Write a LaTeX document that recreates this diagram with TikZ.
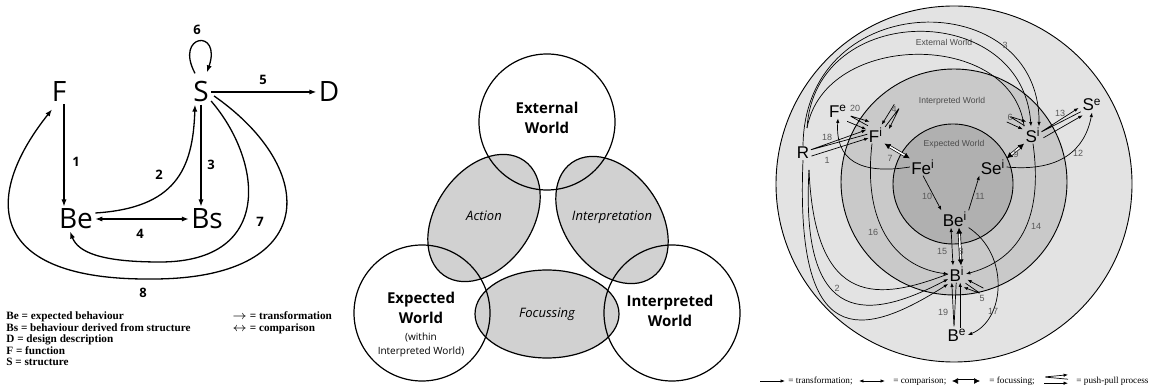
\documentclass[tikz,border=0pt]{standalone}
\usepackage{fontspec}
\setmainfont{Liberation Serif}
\setsansfont{Open Sans}
\newfontfamily\helv{Liberation Sans}
\usetikzlibrary{arrows.meta,calc}

\newcommand{\pushpull}[2]{%
  \draw[tr,rounded corners=0.8pt] ($(#2)!0.4pt!-90:(#1)$) -- ($(#1)!1.5pt!90:(#2)$) -- ($(#2)!2.6pt!-90:(#1)$);
  \draw[tr] ($(#1)!1.6pt!-90:(#2)$) -- ($(#2)!1.6pt!90:(#1)$);}

\begin{document}
\begin{tikzpicture}[x=0.5pt,y=-0.5pt,
    letter/.style={font=\sffamily\fontsize{14}{14}\selectfont, inner sep=1pt},
    num/.style={font=\sffamily\bfseries\fontsize{6.5}{7}\selectfont, inner sep=0pt},
    key/.style={font=\bfseries\fontsize{5.6}{5.75}\selectfont, anchor=base west, inner sep=0pt},
    arr/.style={line width=0.65pt, -{Latex[length=3.5pt,width=2.6pt]}},
    cmp/.style={line width=0.65pt, {Latex[length=3.5pt,width=2.6pt]}-{Latex[length=3.5pt,width=2.6pt]}},
    world/.style={circle, draw, line width=0.6pt, minimum size=68pt, inner sep=0pt},
    lens/.style={draw, line width=0.6pt, fill=black!18},
    wtext/.style={font=\sffamily\bfseries\fontsize{7.5}{10}\selectfont, align=center},
    ltext/.style={font=\sffamily\itshape\fontsize{6.5}{7}\selectfont},
    rnode/.style={font=\helv\fontsize{8.5}{9}\selectfont, inner sep=0.5pt},
    rnum/.style={font=\helv\fontsize{4.5}{5}\selectfont, text=black!65, inner sep=0pt},
    rworld/.style={font=\helv\fontsize{4.3}{5}\selectfont, text=black!70},
    ring/.style={draw, line width=0.45pt},
    tr/.style={line width=0.35pt, -{Latex[length=2.2pt,width=1.7pt]}},
    cp/.style={line width=0.35pt, {Latex[length=2.2pt,width=1.7pt]}-{Latex[length=2.2pt,width=1.7pt]}},
    fc/.style={double, double distance=0.8pt, line width=0.35pt, {Latex[length=3pt,width=3pt]}-{Latex[length=3pt,width=3pt]}},
    rkey/.style={font=\fontsize{4.6}{5}\selectfont, anchor=west, inner sep=0pt}]
   \useasboundingbox (0,0) rectangle (1156,389);

   \node[letter] (F) at (59,92) {F};
   \node[letter] (S) at (201,92) {S};
   \node[letter] (D) at (329,92) {D};
   \node[letter] (Be) at (76,219) {Be};
   \node[letter] (Bs) at (207,219) {Bs};

   \draw[arr] ([xshift=2.5pt]F.south) to ([xshift=2.5pt]F.south |- Be.north);
   \draw[arr] (S.south) to (S.south |- Bs.north);
   \draw[arr] (S.east) to (D.west);
   \draw[cmp] (Be.east) to (Bs.west);
   \draw[arr] ([yshift=3pt]Be.east) .. controls (175,208) and (193,170) .. ([xshift=-3pt]S.south);
   \draw[arr] ([shift={(-6,-6)}]S.north) .. controls (174,34) and (222,28) .. ([shift={(6,-7)}]S.north);
   \draw[arr] ([shift={(0,9)}]S.east) .. controls (262,160) and (275,262) .. (160,262) .. controls (100,262) and (78,252) .. ([xshift=-3pt]Be.south);
   \draw[arr] ([shift={(3,4)}]S.east) .. controls (320,170) and (320,280) .. (150,279) .. controls (-10,280) and (-20,200) .. ([shift={(-7,5)}]F.south);

   \node[num] (n1) at (76,162) {1};
   \node[num] (n2) at (159,175) {2};
   \node[num] (n3) at (211,165) {3};
   \node[num] (n4) at (140,234) {4};
   \node[num] (n5) at (263,80) {5};
   \node[num] (n6) at (197,30) {6};
   \node[num] (n7) at (260,222) {7};
   \node[num] (n8) at (143,293) {8};

   \node[key] (kBe) at (6,320) {Be = expected behaviour};
   \node[key] (kBs) at (6,331.5) {Bs = behaviour derived from structure};
   \node[key] (kD) at (6,343) {D = design description};
   \node[key] (kF) at (6,354.5) {F = function};
   \node[key] (kS) at (6,366) {S = structure};
   \node[key] (kTr) at (232,320) {$\rightarrow$ = transformation};
   \node[key] (kCo) at (232,331.5) {$\leftrightarrow$ = comparison};

   \draw[lens, rotate around={55:(484,218)}] (484,218) ellipse [x radius=70, y radius=48];
   \draw[lens, rotate around={-55:(612,220)}] (612,220) ellipse [x radius=70, y radius=48];
   \draw[lens] (547,314) ellipse [x radius=72, y radius=44];
   \node[world] (ext) at (547,122) {};
   \node[world] (exp) at (422,313) {};
   \node[world] (int) at (672,313) {};
   \node[wtext] (tExt) at (547,118) {External\\World};
   \node[wtext] (tExp) at (421,308) {Expected\\World};
   \node[font=\sffamily\fontsize{5}{7}\selectfont, align=center] (tWithin) at (421,345) {(within\\Interpreted World)};
   \node[wtext] (tInt) at (670,311) {Interpreted\\World};
   \node[ltext] (tAct) at (484,216) {Action};
   \node[ltext] (tIntp) at (612,217) {Interpretation};
   \node[ltext] (tFoc) at (547,314) {Focussing};

   \draw[ring, fill=black!11] (954,184) circle [radius=178];
   \draw[ring, fill=black!21] (954,182) circle [radius=113];
   \draw[ring, fill=black!31] (953,184) circle [radius=60];
   \node[rworld] (wExt) at (944,42) {External World};
   \node[rworld] (wInt) at (952,101) {Interpreted World};
   \node[rworld] (wExp) at (954,144) {Expected World};

   \node[rnode] (R) at (803,153) {R};
   \node[rnode] (Fe) at (838,111) {F\textsuperscript{e}};
   \node[rnode] (Fi) at (876,135) {F\textsuperscript{i}};
   \node[rnode] (Fei) at (923,167) {Fe\textsuperscript{i}};
   \node[rnode] (Sei) at (993,167) {Se\textsuperscript{i}};
   \node[rnode] (Si) at (1033,135) {S\textsuperscript{i}};
   \node[rnode] (Se) at (1092,105) {S\textsuperscript{e}};
   \node[rnode] (Bei) at (955,219) {Be\textsuperscript{i}};
   \node[rnode] (Bi) at (957,274) {B\textsuperscript{i}};
   \node[rnode] (Be2) at (957,335) {B\textsuperscript{e}};
   \coordinate (c4) at (897,106);
   \coordinate (c6) at (1008,119);
   \coordinate (c5) at (982,291);
   \coordinate (h3) at (807,128);
   \coordinate (h2) at (809,170);

   \pushpull{R.east}{Fi.west}
   \pushpull{Fe.south east}{Fi.north west}
   \pushpull{Si.east}{Se.south west}
   \pushpull{Be2.north}{Bi.south}
   \pushpull{c4}{Fi.north east}
   \pushpull{c6}{Si.north west}
   \pushpull{c5}{Bi.south east}
   \draw[fc] (Fi.south east) to (Fei.north west);
   \draw[fc] (Sei.north east) to (Si.south west);
   \draw[fc] ([xshift=2pt]Bei.south) to ([xshift=2pt]Bi.north);
   \draw[cp] ([xshift=-2pt]Bei.south) to ([xshift=-2pt]Bi.north);
   \draw[tr] (Fei.south) to (Bei.north west);
   \draw[tr] (Bei.north east) to (Sei.south west);
   \draw[tr] (Fei.west) .. controls (860,175) and (835,160) .. (Fe.south);
   \draw[tr] ([xshift=-2pt]Fi.south) .. controls (862,230) and (900,268) .. (Bi.west);
   \draw[tr] (Si.south) .. controls (1045,230) and (1010,262) .. (Bi.east);
   \draw[tr] (Sei.east) .. controls (1060,172) and (1085,150) .. (Se.south);
   \draw[tr] (Bei.south east) .. controls (1010,255) and (1005,320) .. (Be2.east);
   \draw[tr] (R.north) .. controls (805,-15) and (1040,-15) .. ([xshift=3pt]Si.north);
   \draw[tr] (h3) .. controls (815,0) and (1022,0) .. ([xshift=-1pt]Si.north);
   \draw[line width=0.35pt] (h3) .. controls (825,30) and (1012,30) .. (Si.north west);
   \draw[tr] (R.south) .. controls (795,350) and (860,340) .. ([yshift=-5pt]Bi.west);
   \draw[tr] (h2) .. controls (800,330) and (870,320) .. ([yshift=-2.5pt]Bi.west);
   \draw[line width=0.35pt] (h2) .. controls (815,310) and (880,300) .. (Bi.west);

   \node[rnum] (r1) at (827,160) {1};
   \node[rnum] (r2) at (837,288) {2};
   \node[rnum] (r3) at (1005,45) {3};
   \node[rnum] (r4) at (894,109) {4};
   \node[rnum] (r5) at (982,298) {5};
   \node[rnum] (r6) at (1010,117) {6};
   \node[rnum] (r7) at (890,158) {7};
   \node[rnum] (r8) at (961,251) {8};
   \node[rnum] (r9) at (1016,154) {9};
   \node[rnum] (r10) at (927,196) {10};
   \node[rnum] (r11) at (980,196) {11};
   \node[rnum] (r12) at (1078,153) {12};
   \node[rnum] (r13) at (1060,113) {13};
   \node[rnum] (r14) at (1036,226) {14};
   \node[rnum] (r15) at (942,251) {15};
   \node[rnum] (r16) at (873,232) {16};
   \node[rnum] (r17) at (993,311) {17};
   \node[rnum] (r18) at (827,137) {18};
   \node[rnum] (r19) at (943,312) {19};
   \node[rnum] (r20) at (855,108) {20};

   \coordinate (t1) at (760,381);
   \coordinate (t2) at (785,381);
   \coordinate (q1) at (859,381);
   \coordinate (q2) at (885,381);
   \coordinate (f1) at (952,381);
   \coordinate (f2) at (980,381);
   \coordinate (p1) at (1044,380);
   \coordinate (p2) at (1068,380);
   \draw[tr] (t1) to (t2);
   \draw[cp] (q1) to (q2);
   \draw[fc] (f1) to (f2);
   \pushpull{p1}{p2}
   \node[rkey] (kt) at (788,381) {= transformation;};
   \node[rkey] (kc) at (893,381) {= comparison;};
   \node[rkey] (kf) at (989,381) {= focussing;};
   \node[rkey] (kp) at (1076,381) {= push-pull process};
 \end{tikzpicture}
\end{document}
